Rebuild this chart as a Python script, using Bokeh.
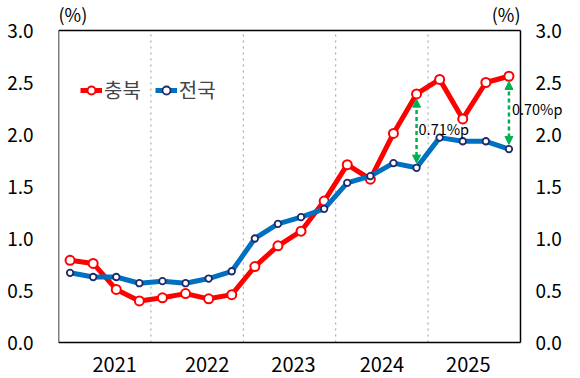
from bokeh.plotting import figure
from bokeh.models import (Range1d, FixedTicker, Arrow, NormalHead, Legend, LegendItem,
                          ColumnDataSource, PrintfTickFormatter)
from bokeh.core.properties import value
from bokeh.embed import file_html
from bokeh.resources import INLINE

# ---- data ----
years = ["2021", "2022", "2023", "2024", "2025"]
quarters = list(range(20))  # 2021Q1 .. 2025Q4
chungbuk = [0.79, 0.76, 0.51, 0.40, 0.43, 0.47, 0.42, 0.46, 0.73, 0.93,
            1.07, 1.36, 1.71, 1.57, 2.01, 2.39, 2.53, 2.15, 2.50, 2.56]
national = [0.67, 0.63, 0.63, 0.57, 0.59, 0.57, 0.615, 0.685, 1.00, 1.14,
            1.205, 1.285, 1.535, 1.60, 1.725, 1.68, 1.97, 1.935, 1.935, 1.86]
gap_quarters = [15, 19]
gap_labels = ["0.71%p", "0.70%p"]
y_ticks = [0.0, 0.5, 1.0, 1.5, 2.0, 2.5, 3.0]
unit_label = "(%)"

FONT = "Noto Sans CJK KR"
RED = "#FF0000"
BLUE = "#0070C0"
NAVY = "#1F2A6B"
GREEN = "#00B050"

# ---- layout (pixels) ----
W, H = 580, 378
PX_L, PX_R, PX_T, PX_B = 58, 520, 30, 342   # plot box inside the canvas
X_MIN, X_MAX = 0, len(quarters)
Y_MIN, Y_MAX = y_ticks[0], y_ticks[-1]
ux = (PX_R - PX_L) / (X_MAX - X_MIN)
uy = (PX_B - PX_T) / (Y_MAX - Y_MIN)
# the drawing area spans the canvas right of the left axis so texts beyond the box are not clipped
x_range = Range1d(X_MIN, X_MAX + (W - PX_R) / ux)
y_range = Range1d(Y_MIN - (H - PX_B) / uy, Y_MAX + PX_T / uy)

p = figure(width=W, height=H, output_backend="svg", toolbar_location=None,
           x_range=x_range, y_range=y_range, x_axis_location=None,
           min_border=0, min_border_left=PX_L, min_border_right=0,
           min_border_top=0, min_border_bottom=0)
p.background_fill_color = "white"
p.border_fill_color = "white"
p.outline_line_color = None
p.xgrid.grid_line_color = None
p.ygrid.grid_line_color = None

left_axis = p.left[0]
left_axis.ticker = FixedTicker(ticks=y_ticks)
left_axis.formatter = PrintfTickFormatter(format="%.1f")
left_axis.axis_line_color = None
left_axis.major_tick_line_color = None
left_axis.minor_tick_line_color = None
left_axis.major_tick_in = 0
left_axis.major_tick_out = 0
left_axis.minor_tick_in = 0
left_axis.minor_tick_out = 0
left_axis.major_label_text_font = FONT
left_axis.major_label_text_color = "black"
left_axis.major_label_text_font_size = "19px"
left_axis.major_label_standoff = 25

# year separators (dotted) and the plot box
sep_x = [4 * i for i in range(1, len(years))]
p.segment(x0=sep_x, y0=[Y_MIN] * len(sep_x), x1=sep_x, y1=[Y_MAX] * len(sep_x),
          line_color="#999999", line_dash="dotted", line_width=1)
p.segment(x0=[X_MIN, X_MAX, X_MIN, X_MIN], y0=[Y_MIN, Y_MIN, Y_MIN, Y_MAX],
          x1=[X_MIN, X_MAX, X_MAX, X_MAX], y1=[Y_MAX, Y_MAX, Y_MIN, Y_MAX],
          line_color="black", line_width=1.5)

# right-hand tick labels
p.text(x=[X_MAX] * len(y_ticks), y=y_ticks, text=[f"{t:.1f}" for t in y_ticks],
       x_offset=15, text_align="left", text_baseline="middle",
       text_font=value(FONT), text_font_size="19px", text_color="black")

# year labels
year_x = [2 + 4 * i for i in range(len(years))]
year_dx = [10, 10, 4, 0, -6]
p.text(x=year_x, y=[Y_MIN] * len(years), text=years, x_offset=year_dx, y_offset=22,
       text_align="center", text_baseline="middle",
       text_font=value(FONT), text_font_size="20px", text_color="black")

# unit labels
p.text(x=[X_MIN], y=[Y_MAX], text=[unit_label], x_offset=0, y_offset=-17,
       text_align="left", text_baseline="middle",
       text_font=value(FONT), text_font_size="18px", text_color="black")
p.text(x=[X_MAX], y=[Y_MAX], text=[unit_label], x_offset=0, y_offset=-17,
       text_align="right", text_baseline="middle",
       text_font=value(FONT), text_font_size="18px", text_color="black")

# series
xs = [q + 0.5 for q in quarters]
r_line = p.line(xs, chungbuk, line_color=RED, line_width=5)
r_pts = p.scatter(xs, chungbuk, marker="circle", size=9, fill_color="white",
                  line_color=RED, line_width=2)
b_line = p.line(xs, national, line_color=BLUE, line_width=5)
b_pts = p.scatter(xs, national, marker="circle", size=6.5, fill_color="white",
                  line_color=NAVY, line_width=1.8)

# gap arrows and labels
ax_x = [q + 0.5 for q in gap_quarters]
ax_lo = [national[q] + 0.045 for q in gap_quarters]
ax_hi = [chungbuk[q] - 0.05 for q in gap_quarters]
ax_mid = [(chungbuk[q] + national[q]) / 2 for q in gap_quarters]
src = ColumnDataSource(dict(x=ax_x, y0=ax_lo, y1=ax_hi, ym=ax_mid, text=gap_labels,
                            dx=[2, 3], dy=[-2, -4]))
arrow = Arrow(x_start="x", y_start="y0", x_end="x", y_end="y1", source=src,
              line_color=GREEN, line_width=2.5, line_dash="4 3",
              start=NormalHead(size=8, fill_color=GREEN, line_color=GREEN, line_width=1),
              end=NormalHead(size=8, fill_color=GREEN, line_color=GREEN, line_width=1))
p.add_layout(arrow)
p.text(x="x", y="ym", text="text", source=src, x_offset="dx", y_offset="dy",
       text_align="left", text_baseline="middle",
       text_font=value(FONT), text_font_size="14.5px", text_color="black")

# legend
legend = Legend(items=[LegendItem(label="충북", renderers=[r_line, r_pts]),
                       LegendItem(label="전국", renderers=[b_line, b_pts])],
                orientation="horizontal", location=(22, H - PX_B + 238),
                label_text_font=FONT, label_text_font_size="20px",
                glyph_width=22, glyph_height=20, label_standoff=2, spacing=14,
                padding=0, margin=0, border_line_color=None, background_fill_alpha=0)
p.add_layout(legend)

open("out.html", "w").write(file_html(p, INLINE))
